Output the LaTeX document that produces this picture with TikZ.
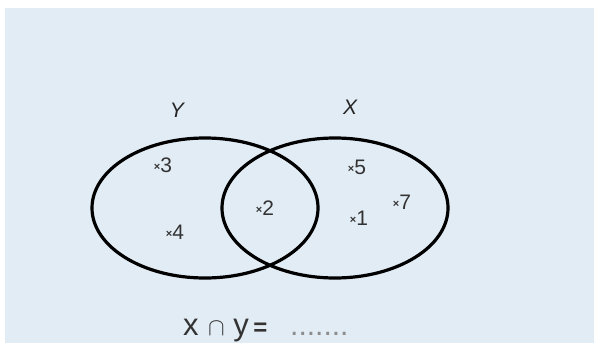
\documentclass[tikz,border=0pt]{standalone}
\usepackage{fontspec}
\setmainfont{Liberation Sans}
\definecolor{bgblue}{HTML}{E2ECF5}
\begin{document}
\begin{tikzpicture}[x=1pt,y=-1pt,
  setline/.style={line width=3.2pt,black},
  setname/.style={font=\fontsize{21}{21}\selectfont\itshape,inner sep=0pt,text=black!85},
  elem/.style={font=\fontsize{21}{21}\selectfont,inner sep=0pt,text=black!80}]
\useasboundingbox (0,0) rectangle (594,343);
\fill[bgblue] (5,8) rectangle (594,343);
\newcommand{\mk}{{\fontsize{11}{11}\selectfont\bfseries\raisebox{2pt}{×}}}
\draw[setline] (205,208) ellipse [x radius=113, y radius=70];
\draw[setline] (335,208) ellipse [x radius=113, y radius=70];
\node[setname] (Y) at (177,110) {Y};
\node[setname] (X) at (350,107) {X};
\node[elem] (e3) at (163,165) {\mk3};
\node[elem] (e4) at (175,232) {\mk4};
\node[elem] (e2) at (265,208) {\mk2};
\node[elem] (e5) at (357,167) {\mk5};
\node[elem] (e7) at (402,202) {\mk7};
\node[elem] (e1) at (359,218) {\mk1};
\node[anchor=base west,inner sep=0pt,text=black!80] (q) at (183,335)
  {\fontsize{31}{31}\selectfont x\hspace{0.3em}{\fontsize{24}{24}\selectfont$\cap$}\hspace{0.28em}y\hspace{0.15em}{\fontsize{24}{24}\selectfont\bfseries =}};
\node[anchor=base west,inner sep=0pt,text=black!45,font=\fontsize{30}{30}\selectfont] (dots) at (290,335) {.......};
\end{tikzpicture}
\end{document}
